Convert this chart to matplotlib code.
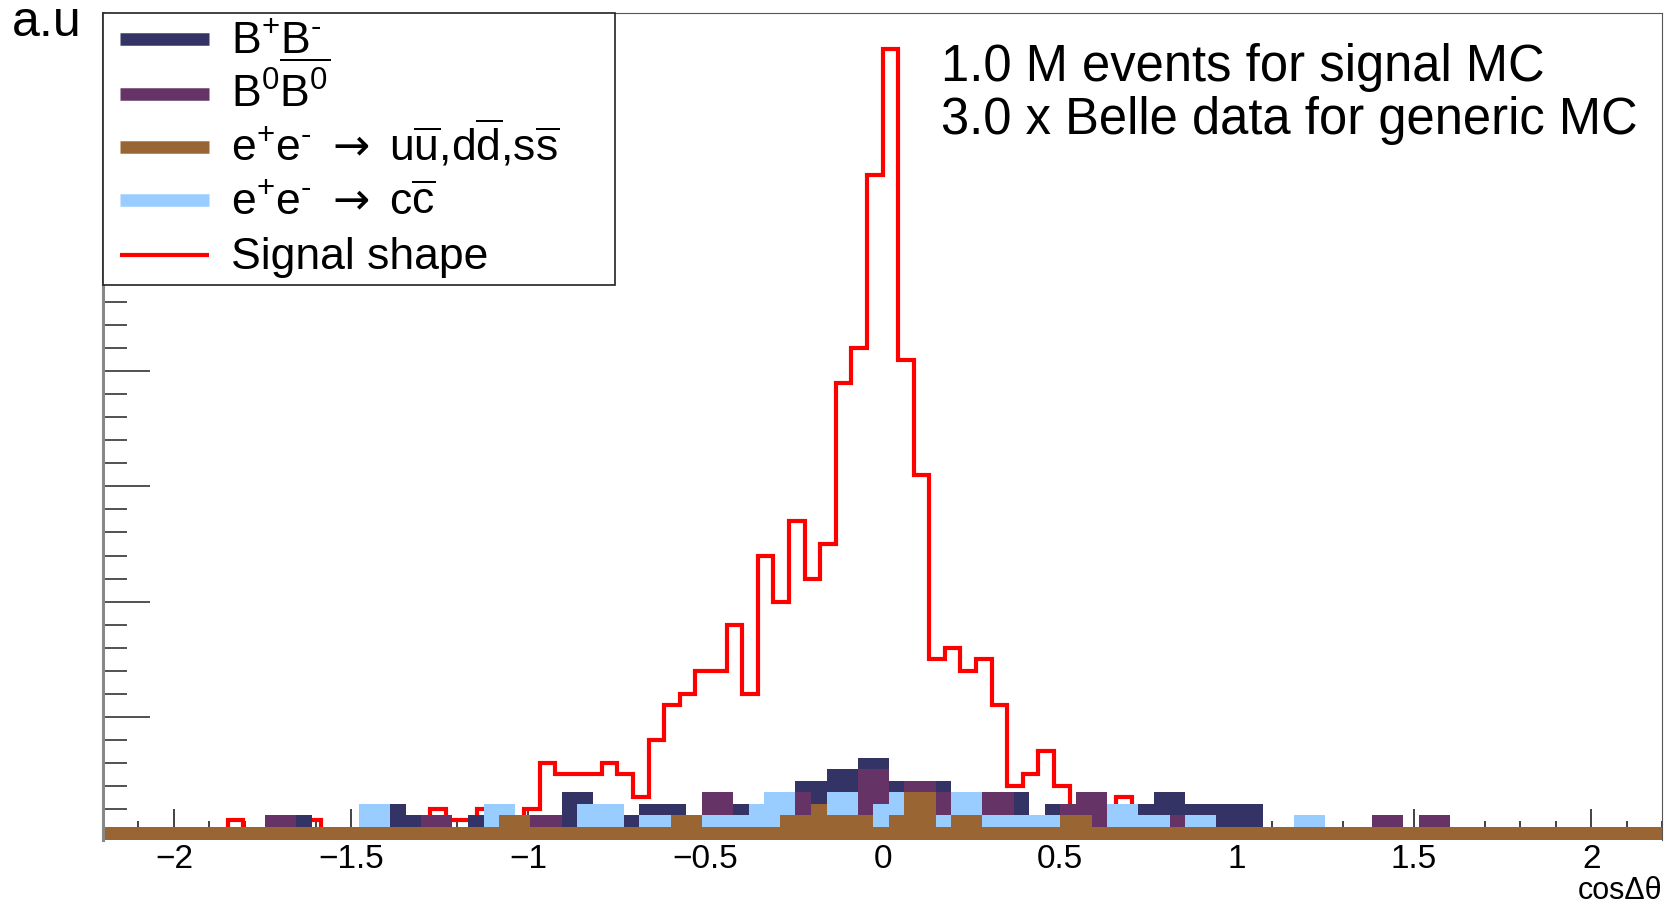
import numpy as np
import matplotlib
matplotlib.use("Agg")
from matplotlib import pyplot as plt
from matplotlib.patches import Rectangle
from matplotlib.ticker import MultipleLocator

plt.rcParams['font.family'] = ['Liberation Sans', 'DejaVu Sans']
plt.rcParams['mathtext.fontset'] = 'custom'
plt.rcParams['mathtext.rm'] = 'Liberation Sans'
plt.rcParams['mathtext.it'] = 'Liberation Sans:italic'
plt.rcParams['mathtext.sf'] = 'DejaVu Sans'

# signal MC: 100 bins on [-2.2, 2.2]
sig_edges = np.linspace(-2.2, 2.2, 101)
signal = [0, 0, 0, 0, 0, 0, 0, 0, 1, 0, 0, 0, 0, 1, 0, 0, 0, 0, 0, 0,
          0, 2, 1, 1, 2, 1, 1, 2, 6, 5, 5, 5, 6, 5, 3, 8, 11, 12, 14, 14,
          18, 12, 24, 20, 27, 22, 25, 39, 42, 57, 68, 41, 31, 15, 16, 14, 15, 11, 4, 5,
          7, 4, 2, 2, 2, 3, 1, 2, 0, 0, 0, 0, 0, 0, 0, 0, 0, 0, 0, 0,
          0, 0, 0, 0, 0, 0, 0, 0, 0, 0, 0, 0, 0, 0, 0, 0, 0, 0, 0, 0]

# generic MC (bins shifted a bit w.r.t. the signal histo)
bkg_edges = np.linspace(-2.182, 2.218, 101)
bb_charged = [0, 0, 0, 0, 0, 0, 0, 0, 0, 0, 0, 0, 1, 0, 0, 0, 0, 0, 2, 1,
              0, 0, 0, 1, 0, 0, 0, 0, 0, 3, 1, 0, 0, 1, 1, 1, 1, 0, 0, 0,
              1, 0, 0, 0, 1, 2, 2, 2, 1, 1, 1, 0, 0, 1, 0, 0, 0, 0, 2, 0,
              1, 0, 0, 0, 0, 0, 1, 2, 2, 1, 1, 2, 2, 2, 0, 0, 0, 0, 0, 0,
              0, 0, 0, 0, 0, 0, 0, 0, 0, 0, 0, 0, 0, 0, 0, 0, 0, 0, 0, 0]
bb_neutral = [0, 0, 0, 0, 0, 0, 0, 0, 0, 0, 1, 1, 0, 0, 0, 0, 0, 0, 0, 0,
              1, 1, 0, 0, 0, 0, 0, 1, 1, 0, 0, 0, 0, 0, 0, 0, 0, 0, 2, 2,
              0, 0, 0, 0, 2, 0, 0, 0, 4, 3, 0, 1, 1, 2, 0, 0, 2, 2, 0, 0,
              0, 1, 2, 3, 0, 0, 0, 0, 1, 0, 0, 0, 0, 0, 0, 0, 0, 0, 0, 0,
              0, 1, 1, 0, 1, 1, 0, 0, 0, 0, 0, 0, 0, 0, 0, 0, 0, 0, 0, 0]
uds = [0, 0, 0, 0, 0, 0, 0, 0, 0, 0, 0, 0, 0, 0, 0, 0, 0, 0, 0, 0,
       0, 0, 0, 0, 0, 1, 1, 0, 0, 0, 0, 0, 0, 0, 0, 0, 1, 1, 0, 0,
       0, 0, 0, 1, 1, 2, 1, 1, 1, 0, 1, 3, 3, 0, 1, 1, 0, 0, 0, 0,
       0, 1, 1, 0, 0, 0, 0, 0, 0, 0, 0, 0, 0, 0, 0, 0, 0, 0, 0, 0,
       0, 0, 0, 0, 0, 0, 0, 0, 0, 0, 0, 0, 0, 0, 0, 0, 0, 0, 0, 0]
charm = [0, 0, 0, 0, 0, 0, 0, 0, 0, 0, 0, 0, 0, 0, 0, 0, 2, 2, 0, 0,
         0, 0, 0, 0, 2, 1, 0, 0, 0, 0, 2, 2, 2, 0, 1, 1, 0, 0, 1, 1,
         1, 2, 3, 2, 0, 0, 2, 2, 0, 2, 2, 0, 0, 1, 2, 2, 1, 1, 1, 1,
         1, 0, 0, 0, 2, 2, 1, 1, 0, 1, 1, 0, 0, 0, 0, 0, 1, 1, 0, 0,
         0, 0, 0, 0, 0, 0, 0, 0, 0, 0, 0, 0, 0, 0, 0, 0, 0, 0, 0, 0]

xtick_vals = [-2, -1.5, -1, -0.5, 0, 0.5, 1, 1.5, 2]
xtick_labels = ["\u22122", "\u22121.5", "\u22121", "\u22120.5", "0", "0.5", "1", "1.5", "2"]

labels = [r"B$^{+}$B$^{\text{-}}$",
          r"B$^{0}\overline{\mathrm{B}^{0}}$",
          r"e$^{+}$e$^{\text{-}}$ $\mathsf{\rightarrow}$ u$\overline{\mathrm{u}}$,d$\overline{\mathrm{d}}$,s$\overline{\mathrm{s}}$",
          r"e$^{+}$e$^{\text{-}}$ $\mathsf{\rightarrow}$ c$\overline{\mathrm{c}}$",
          "Signal shape"]
colors = ["#333366", "#663366", "#996633", "#99ccff", "#ff0000"]

fig = plt.figure(figsize=(16.67, 9.06), dpi=100)
ax = fig.add_axes([0.0618, 0.0728, 0.9352, 0.9129])
base = 0.45

# signal drawn first, the stack goes on top of it
ax.stairs(signal, sig_edges, baseline=0, color=colors[4], lw=3, zorder=1)

# stacked generic MC, tallest first
b = np.array(uds)
bc = b + np.array(charm)
bcn = bc + np.array(bb_neutral)
tot = bcn + np.array(bb_charged)
ax.axhspan(-0.7, base, color=colors[2], zorder=2, lw=0)
for h, c in [(tot, colors[0]), (bcn, colors[1]), (bc, colors[3]), (b, colors[2])]:
    ax.stairs(h + base, bkg_edges, baseline=base, fill=True, color=c, lw=0, zorder=2)

ax.set_xlim(-2.2, 2.2)
ax.set_ylim(-0.7, 71.1)
ax.set_axisbelow(True)
ax.xaxis.set_minor_locator(MultipleLocator(0.1))
ax.set_xticks(xtick_vals)
ax.set_xticklabels(xtick_labels, fontsize=24)
ax.yaxis.set_major_locator(MultipleLocator(10))
ax.yaxis.set_minor_locator(MultipleLocator(2))
ax.tick_params(axis='x', which='major', direction='in', length=22, width=1.2, color='#222222', pad=3)
ax.tick_params(axis='x', which='minor', direction='in', length=14, width=1.2, color='#222222')
ax.tick_params(axis='y', which='major', direction='in', length=34, width=1.2, color='#333333', labelleft=False)
ax.tick_params(axis='y', which='minor', direction='in', length=17, width=1.2, color='#333333')

ax.spines['bottom'].set_visible(False)
ax.spines['left'].set_color('#888888')
ax.spines['left'].set_linewidth(2.2)
ax.spines['top'].set_color('#555555')
ax.spines['right'].set_color('#555555')

# legend box drawn by hand so the rows are evenly spaced like in ROOT
ax.add_patch(Rectangle((0, 0.671), 0.3284, 0.329, transform=ax.transAxes, facecolor='white',
                       edgecolor='#222222', lw=1.2, zorder=5, clip_on=False))
row_y = [0.9682, 0.9025, 0.8383, 0.774, 0.7071]
for i in range(len(labels)):
    lw = 3 if i == 4 else 9
    ax.plot([0.0109, 0.0683], [row_y[i], row_y[i]], transform=ax.transAxes, color=colors[i],
            lw=lw, solid_capstyle='butt', zorder=6, clip_on=False)
    ax.text(0.0819, row_y[i] - 0.0165, labels[i], transform=ax.transAxes, fontsize=32,
            va='baseline', ha='left', zorder=6)

ax.text(0.5375, 0.934, "1.0 M events for signal MC", transform=ax.transAxes,
        fontsize=36.5, va='center', ha='left')
ax.text(0.5375, 0.870, "3.0 x Belle data for generic MC", transform=ax.transAxes,
        fontsize=36.5, va='center', ha='left')

fig.text(0.007, 0.975, "a.u", fontsize=36, va='center', ha='left')
fig.text(0.997, 0.017, "cos\u0394\u03b8", fontsize=22, va='center', ha='right')

fig.savefig("out.png", dpi=100)
